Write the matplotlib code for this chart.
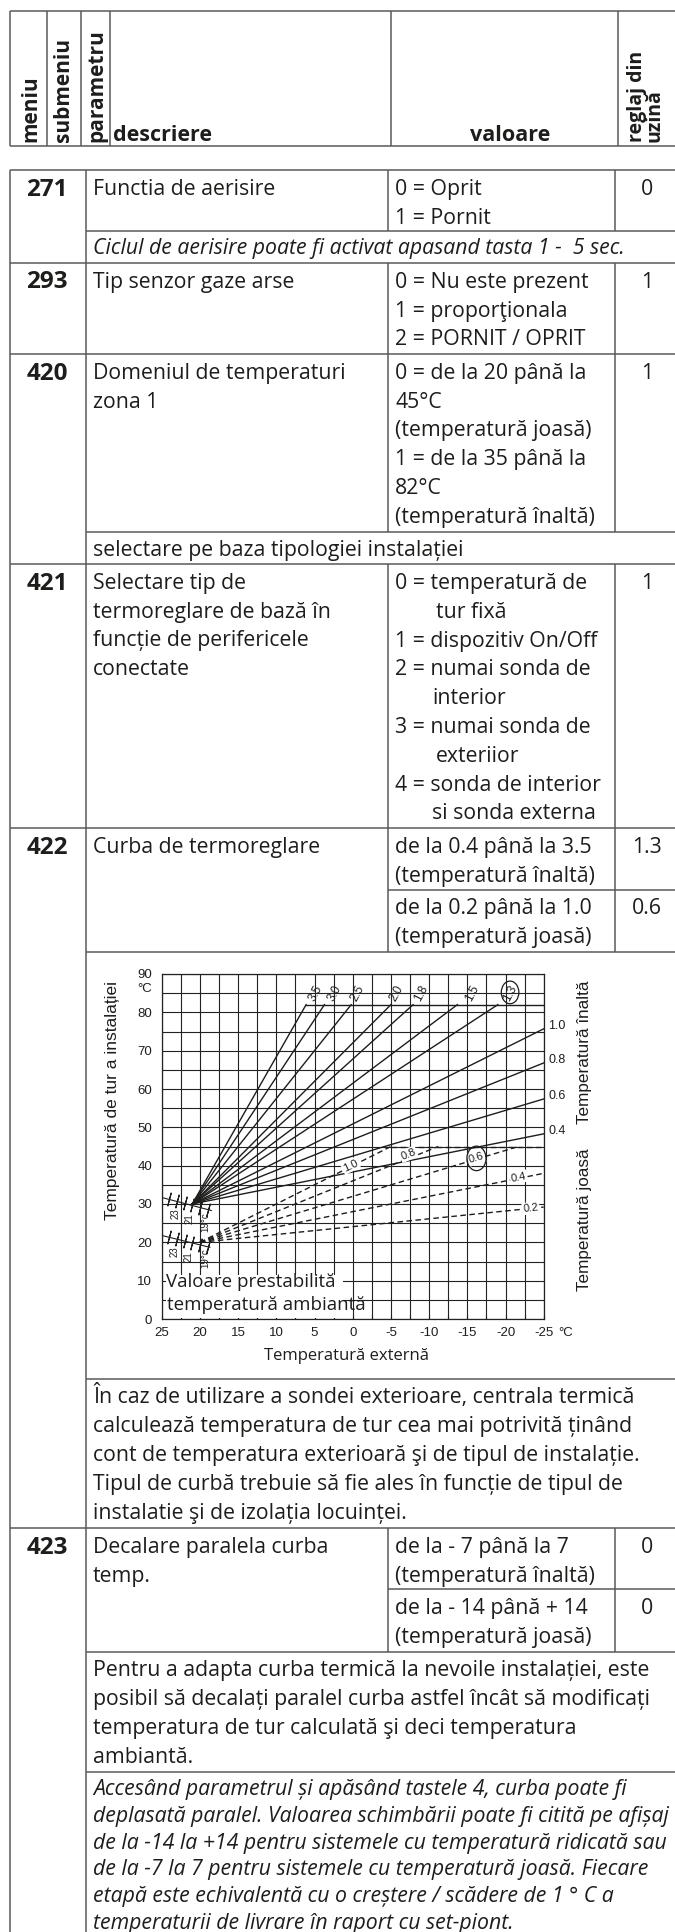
import matplotlib
matplotlib.use('Agg')
import matplotlib.pyplot as plt
from matplotlib import font_manager
from matplotlib.patches import Rectangle, Ellipse
from matplotlib.ticker import MultipleLocator

W, H = 675, 1932
installed = {f.name for f in font_manager.fontManager.ttflist}
FONT = 'Open Sans' if 'Open Sans' in installed else 'Liberation Sans'
NARROW = 'Liberation Sans Narrow' if 'Liberation Sans Narrow' in installed else 'Liberation Sans'
CHART = 'Liberation Sans'
INK = '#1d1d1b'
RULE = '#5a5a5a'
plt.rcParams['font.family'] = [FONT, 'DejaVu Sans']

# ---------------- table content ----------------
head_rotated = ['meniu', 'submeniu', 'parametru']
head_desc = 'descriere'
head_value = 'valoare'
head_default = 'reglaj din\nuzină'

codes = ['271', '293', '420', '421', '422', '423']

desc_271 = ['Functia de aerisire']
val_271 = ['0 = Oprit', '1 = Pornit']
def_271 = '0'
note_271 = 'Ciclul de aerisire poate fi activat apasand tasta 1 -  5 sec.'

desc_293 = ['Tip senzor gaze arse']
val_293 = ['0 = Nu este prezent', '1 = proporţionala', '2 = PORNIT / OPRIT']
def_293 = '1'

desc_420 = ['Domeniul de temperaturi', 'zona 1']
val_420 = ['0 = de la 20 până la', '45°C', '(temperatură joasă)',
           '1 = de la 35 până la', '82°C', '(temperatură înaltă)']
def_420 = '1'
note_420 = 'selectare pe baza tipologiei instalației'

desc_421 = ['Selectare tip de', 'termoreglare de bază în',
            'funcție de perifericele', 'conectate']
val_421 = ['0 = temperatură de', 'tur fixă', '1 = dispozitiv On/Off',
           '2 = numai sonda de', 'interior', '3 = numai sonda de',
           'exteriior', '4 = sonda de interior', 'si sonda externa']
def_421 = '1'

desc_422 = ['Curba de termoreglare']
val_422_high = ['de la 0.4 până la 3.5', '(temperatură înaltă)']
val_422_low = ['de la 0.2 până la 1.0', '(temperatură joasă)']
def_422 = ['1.3', '0.6']
para_422 = ['În caz de utilizare a sondei exterioare, centrala termică',
            'calculează temperatura de tur cea mai potrivită ținând',
            'cont de temperatura exterioară şi de tipul de instalație.',
            'Tipul de curbă trebuie să fie ales în funcție de tipul de',
            'instalatie şi de izolația locuinței.']

desc_423 = ['Decalare paralela curba', 'temp.']
val_423_high = ['de la - 7 până la 7', '(temperatură înaltă)']
val_423_low = ['de la - 14 până + 14', '(temperatură joasă)']
def_423 = ['0', '0']
para_423 = ['Pentru a adapta curba termică la nevoile instalației, este',
            'posibil să decalați paralel curba astfel încât să modificați',
            'temperatura de tur calculată şi deci temperatura',
            'ambiantă.']
note_423 = ['Accesând parametrul și apăsând tastele 4, curba poate fi',
            'deplasată paralel. Valoarea schimbării poate fi citită pe afișaj',
            'de la -14 la +14 pentru sistemele cu temperatură ridicată sau',
            'de la -7 la 7 pentru sistemele cu temperatură joasă. Fiecare',
            'etapă este echivalentă cu o creștere / scădere de 1 ° C a',
            'temperaturii de livrare în raport cu set-piont.']

# ---------------- chart content ----------------
x_ticks = [25, 20, 15, 10, 5, 0, -5, -10, -15, -20, -25]
y_ticks = [0, 10, 20, 30, 40, 50, 60, 70, 80, 90]

high_names = ['3.5', '3.0', '2.5', '2.0', '1.8', '1.5', '1.3', '1.0', '0.8', '0.6', '0.4']
high_origin = (21, 30)
high_end_x = [6.1, 3.7, 0.2, -5.0, -7.9, -13.7, -19.0, -25, -25, -25, -25]
high_end_y = [82, 82, 82, 82, 82, 82, 82, 75.7, 66.8, 57.4, 48.3]
high_cap = 82

low_names = ['1.0', '0.8', '0.6', '0.4', '0.2']
low_origin = (20, 20)
low_end_x = [-5.0, -11.2, -21.7, -25, -25]
low_end_y = [45, 45, 45, 38.0, 29.2]
low_cap = 45

room_marks = [24, 23, 22, 21, 20, 19]
room_labels = ['23', '21', '19°c']
high_room_line = ([24.8, 18.5], [31.6, 28.3])
low_room_line = ([24.8, 18.7], [21.7, 18.7])

# ---------------- figure ----------------
fig = plt.figure(figsize=(W / 100, H / 100), dpi=100)
ax = fig.add_axes([0, 0, 1, 1])
ax.set_xlim(0, W)
ax.set_ylim(H, 0)
ax.axis('off')

BODY = 15.3
LH = 28.7


def hl(y, x0, x1=W + 5):
    ax.plot([x0, x1], [y, y], color=RULE, lw=1.1, solid_capstyle='butt')


def vl(x, y0, y1):
    ax.plot([x, x], [y0, y1], color=RULE, lw=1.1, solid_capstyle='butt')


def txt(x, yc, s, size=BODY, ha='left', **kw):
    ax.text(x, yc + 6, s, fontsize=size, ha=ha, va='baseline', color=INK, **kw)


def block(x, y0, items, step=LH, **kw):
    for i, s in enumerate(items):
        txt(x, y0 + i * step, s, **kw)


# header box
hx = [9.5, 46.5, 81, 110, 391, 618]
hl(11, 9.5)
hl(146, 9.5)
for x in hx:
    vl(x, 11, 146)
for s, cx in zip(head_rotated, [31, 64, 97]):
    ax.text(cx, 142, s, rotation=90, rotation_mode='anchor', ha='left', va='center',
            fontsize=15, fontweight='bold', color=INK)
ax.text(646, 142, head_default, rotation=90, rotation_mode='anchor', ha='left',
        va='center', fontsize=14, fontweight='bold', color=INK, linespacing=0.85)
ax.text(113, 141, head_desc, fontsize=15.5, fontweight='bold', color=INK, va='baseline')
ax.text(510, 141, head_value, fontsize=15.5, fontweight='bold', color=INK,
        va='baseline', ha='center')

# main table grid
XL, XN, XV, XD = 9.5, 85.5, 388, 615
vl(XL, 170, H + 5)
vl(XN, 170, H + 5)
for y0, y1 in [(170, 231), (263, 532), (564, 952), (1528, 1652)]:
    vl(XV, y0, y1)
    vl(XD, y0, y1)
hl(170, XL)
hl(231, XN)
hl(263, XL)
hl(354, XL)
hl(532, XN)
hl(564, XL)
hl(828, XL)
hl(890, XV)
hl(952, XN)
hl(1379, XN)
hl(1528, XL)
hl(1589, XV)
hl(1652, XN)
hl(1772, XN)

TX, VX, CX, DX = 93, 395, 47, 647
row_y = [189, 282, 373, 583, 847, 1547]
for c, y in zip(codes, row_y):
    txt(CX, y + 0.5, c, size=17.5, ha='center', fontweight='bold')

block(TX, 189, desc_271)
block(VX, 189, val_271)
txt(DX, 189, def_271, ha='center')
txt(TX, 248, note_271, style='italic')

block(TX, 282, desc_293)
block(VX, 282, val_293)
txt(DX, 282, def_293, ha='center')

block(TX, 373, desc_420)
block(VX, 373, val_420)
txt(DX, 373, def_420, ha='center')
txt(TX, 550, note_420)

indent_421 = [0, 41, 0, 0, 37, 0, 41, 0, 37]
block(TX, 583, desc_421)
for i, s in enumerate(val_421):
    txt(VX + indent_421[i], 583 + i * 28.8, s)
txt(DX, 583, def_421, ha='center')

block(TX, 847, desc_422)
block(VX, 847, val_422_high)
block(VX, 908, val_422_low)
txt(DX, 847, def_422[0], ha='center')
txt(DX, 908, def_422[1], ha='center')
block(TX, 1397, para_422, step=29.0)

block(TX, 1547, desc_423)
block(VX, 1547, val_423_high)
block(VX, 1608, val_423_low)
txt(DX, 1547, def_423[0], ha='center')
txt(DX, 1608, def_423[1], ha='center')
block(TX, 1670, para_423, step=29.0)
block(TX, 1789, note_423, step=26.8, style='italic')

# ---------------- embedded chart ----------------
PX0, PX1, PY0, PY1 = 161.7, 543.7, 974, 1319
axc = fig.add_axes([PX0 / W, 1 - PY1 / H, (PX1 - PX0) / W, (PY1 - PY0) / H])
axc.set_xlim(25, -25)
axc.set_ylim(0, 90)
axc.set_facecolor('none')
axc.set_axisbelow(True)
axc.set_xticks(x_ticks)
axc.set_xticklabels([str(v) for v in x_ticks])
axc.set_yticks(y_ticks)
axc.xaxis.set_minor_locator(MultipleLocator(2.5))
axc.yaxis.set_minor_locator(MultipleLocator(5))
axc.grid(which='both', color='#222222', lw=0.8)
axc.tick_params(axis='x', which='both', direction='in', length=3, width=0.8,
                pad=6, labelsize=9.5, colors=INK)
axc.tick_params(axis='y', which='both', length=0, pad=7, labelsize=9.5, colors=INK)
for lab in axc.get_xticklabels() + axc.get_yticklabels():
    lab.set_family(NARROW)
for sp in axc.spines.values():
    sp.set_color('#222222')
    sp.set_linewidth(0.9)

# white box for the note inside the plot
axc.add_patch(Rectangle((1.3, 0.25), 23.2, 11.25, facecolor='white',
                        edgecolor='none', zorder=1.5))
axc.text(166, 1282, 'Valoare prestabilită', transform=ax.transData, ha='left',
         va='center', fontsize=13.5, color=INK, zorder=5)
axc.text(167, 1305, 'temperatură ambiantă', transform=ax.transData, ha='left',
         va='center', fontsize=13.5, color=INK, zorder=5)

# high temperature curves (solid)
for xe, ye in zip(high_end_x, high_end_y):
    axc.plot([high_origin[0], xe], [high_origin[1], ye], color=INK, lw=1.0, zorder=3)
axc.plot([high_end_x[0], -25], [high_cap, high_cap], color=INK, lw=1.0, zorder=3)

# low temperature curves (dashed)
for xe, ye in zip(low_end_x, low_end_y):
    axc.plot([low_origin[0], xe], [low_origin[1], ye], color=INK, lw=1.0,
             ls=(0, (4, 2.5)), zorder=3)
axc.plot([low_end_x[0], -25], [low_cap, low_cap], color=INK, lw=1.0,
         ls=(0, (4, 2.5)), zorder=3)

# curve labels
top_label_x = [4.9, 2.3, -0.6, -5.8, -9.0, -15.6, -20.6]
for name, x in zip(high_names[:7], top_label_x):
    axc.text(x, 85, name, rotation=62, ha='center', va='center', fontsize=8.5,
             family=NARROW, color=INK, zorder=4)
axc.add_patch(Ellipse((-20.6, 85.2), 2.3, 5.9, fill=False, edgecolor=INK, lw=0.9,
                      zorder=4, clip_on=False))
for name, ye in zip(high_names[7:], high_end_y[7:]):
    axc.text(-25.6, ye + 0.8, name, ha='left', va='center', fontsize=9,
             family=NARROW, color=INK, clip_on=False)

low_label_pos = [(0.3, 40.0, 26), (-7.3, 43.0, 22), (-16.2, 41.9, 17),
                 (-21.7, 37.0, 11), (-23.3, 28.9, 6)]
for name, (x, y, r) in zip(low_names, low_label_pos):
    axc.text(x, y, name, rotation=r, ha='center', va='center', fontsize=8,
             family=NARROW, color=INK, zorder=4,
             bbox=dict(boxstyle='square,pad=0.1', fc='white', ec='none'))
axc.add_patch(Ellipse((-16.2, 41.9), 2.5, 6.4, fill=False, edgecolor=INK, lw=0.9,
                      zorder=5))

# room temperature scales
for lx, ly in [high_room_line, low_room_line]:
    axc.plot(lx, ly, color=INK, lw=0.8, zorder=3)
    yy = [ly[0] + (ly[1] - ly[0]) * (m - lx[0]) / (lx[1] - lx[0]) for m in room_marks]
    axc.plot(room_marks, yy, ls='none', marker=(2, 2, -15), ms=10, mew=0.8,
             color=INK, zorder=3)
for s, x, y in zip(room_labels, [23.2, 21.3, 19.3], [27.6, 26.3, 25.3]):
    axc.text(x, y, s, rotation=90, ha='center', va='center', fontsize=7,
             family=NARROW, color=INK, zorder=4)
for s, x, y in zip(room_labels, [23.35, 21.5, 19.3], [17.6, 16.4, 15.8]):
    axc.text(x, y, s, rotation=90, ha='center', va='center', fontsize=7,
             family=NARROW, color=INK, zorder=4)

# chart annotations in page coordinates
ax.text(152, 989, '°C', ha='right', va='center', fontsize=9.5, family=NARROW, color=INK)
ax.text(558, 1333, '°C', ha='left', va='center', fontsize=9.5, family=NARROW, color=INK)
ax.text(347, 1356, 'Temperatură externă', ha='center', va='center', fontsize=12,
        color=INK)
ax.text(112, 1100, 'Temperatură de tur a instalației', rotation=90, ha='center',
        va='center', fontsize=12.5, family=CHART, color=INK)
ax.text(584, 1052, 'Temperatură înaltă', rotation=90, ha='center', va='center',
        fontsize=12.3, family=CHART, color=INK)
ax.text(584, 1220, 'Temperatură joasă', rotation=90, ha='center', va='center',
        fontsize=12.3, family=CHART, color=INK)

fig.savefig('out.png', dpi=100)
